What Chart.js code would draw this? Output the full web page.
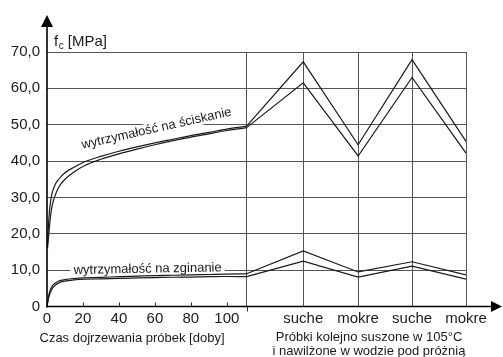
<!DOCTYPE html>
<html>
<head>
<meta charset="utf-8">
<title>Wytrzymałość zaczynu</title>
<script src="https://cdn.jsdelivr.net/npm/chart.js@4.4.0/dist/chart.umd.min.js"></script>
<style>
    html, body { margin: 0; padding: 0; background: #fff; }
    #wrap { width: 503px; height: 357px; }
</style>
</head>
<body>
<div id="wrap"><canvas id="chart" width="503" height="357"></canvas></div>
<script>
// dojrzewanie: doby -> wytrzymałość [MPa]
const compDays   = [0.3, 1, 2, 3, 4.5, 6.5, 10, 15, 21, 30, 40, 50, 60, 70, 80, 90, 100, 111];
const compUpper  = [17, 24, 29, 31.5, 33.5, 35, 36.8, 38.3, 39.8, 41.3, 42.7, 43.9, 45.0, 46.0, 47.0, 47.9, 48.8, 49.6];
const compLower  = [16, 20, 25, 28, 30.5, 32.8, 35, 37, 38.8, 40.5, 42.0, 43.3, 44.5, 45.6, 46.6, 47.5, 48.4, 49.2];

const flexDays   = [0, 1, 2, 3, 4.5, 6.5, 10, 15, 21, 30, 40, 50, 60, 70, 80, 90, 100, 111];
const flexUpper  = [0, 3.2, 4.8, 5.7, 6.4, 7.0, 7.4, 7.7, 7.9, 8.0, 8.2, 8.35, 8.5, 8.6, 8.7, 8.8, 8.9, 9.0];
const flexLower  = [0, 2.5, 4.0, 5.0, 5.8, 6.5, 7.0, 7.3, 7.5, 7.6, 7.75, 7.85, 7.95, 8.05, 8.1, 8.2, 8.25, 8.2];

// cykle suszenia / nawilżania
const cycleX      = [111, 142.5, 173, 203, 233];
const cycleLabels = ['', 'suche', 'mokre', 'suche', 'mokre'];
const compCycleA  = [49.6, 67.3, 44.5, 67.9, 45.4];
const compCycleB  = [49.2, 61.5, 41.4, 63.0, 42.2];
const flexCycleA  = [9.0, 15.3, 9.5, 12.3, 8.7];
const flexCycleB  = [8.2, 12.5, 8.1, 11.1, 7.5];

const ageTicks    = [0, 20, 40, 60, 80, 100];
const xTickValues = ageTicks.concat(cycleX);
const xTickLabels = ageTicks.map(String).concat(cycleLabels);
const yTickValues = [0, 10, 20, 30, 40, 50, 60, 70];
const yTickLabels = ['0', '10,0', '20,0', '30,0', '40,0', '50,0', '60,0', '70,0'];

const FONT = "'Liberation Sans', Arial, sans-serif";
const INK = '#1a1a1a';

function pts(xs, ys) {
    return xs.map((x, i) => ({ x: x, y: ys[i] }));
}
function curve(xs, ys, smooth) {
    return {
        data: pts(xs, ys),
        borderColor: INK,
        borderWidth: 1.2,
        pointRadius: 0,
        fill: false,
        cubicInterpolationMode: smooth ? 'monotone' : 'default',
        tension: 0
    };
}

function labelOnBox(ctx, text, x, y, angle, size) {
    ctx.save();
    ctx.translate(x, y);
    ctx.rotate(angle);
    ctx.font = size + 'px ' + FONT;
    const w = ctx.measureText(text).width;
    ctx.fillStyle = '#fff';
    ctx.fillRect(-3, -size * 0.8, w + 6, size * 1.0);
    ctx.fillStyle = INK;
    ctx.textBaseline = 'alphabetic';
    ctx.fillText(text, 0, 0);
    ctx.restore();
}

const decor = {
    id: 'decor',
    beforeDatasetsDraw(chart) {
        const ctx = chart.ctx, xs = chart.scales.x, ys = chart.scales.y;
        // opis krzywej ściskania, wzdłuż krzywej
        labelOnBox(ctx, 'wytrzymałość na ściskanie', xs.getPixelForValue(19.8), ys.getPixelForValue(43.4), -12.6 * Math.PI / 180, 13);
        // opis krzywej zginania, na linii 10,0
        ctx.save();
        ctx.font = '13px ' + FONT;
        const t = 'wytrzymałość na zginanie';
        const w = ctx.measureText(t).width;
        const cx = xs.getPixelForValue(56), cy = ys.getPixelForValue(10.2);
        ctx.restore();
        labelOnBox(ctx, t, cx - w / 2, cy + 4.5, -1 * Math.PI / 180, 13);
    },
    afterDraw(chart) {
        const ctx = chart.ctx, a = chart.chartArea, xs = chart.scales.x;
        const x0 = a.left, y0 = a.bottom;
        ctx.save();
        ctx.strokeStyle = '#000';
        ctx.fillStyle = '#000';
        ctx.lineWidth = 1.6;
        // osie
        ctx.beginPath();
        ctx.moveTo(x0, y0 + 1);
        ctx.lineTo(x0, 24);
        ctx.moveTo(x0 - 1, y0);
        ctx.lineTo(494, y0);
        ctx.stroke();
        // strzałki
        ctx.beginPath();
        ctx.moveTo(x0, 15);
        ctx.lineTo(x0 - 6, 27);
        ctx.lineTo(x0 + 6, 27);
        ctx.closePath();
        ctx.fill();
        ctx.beginPath();
        ctx.moveTo(502, y0);
        ctx.lineTo(491, y0 - 5.5);
        ctx.lineTo(491, y0 + 5.5);
        ctx.closePath();
        ctx.fill();
        // kreski podziałki
        ctx.lineWidth = 1;
        ctx.strokeStyle = '#333';
        ctx.beginPath();
        ageTicks.slice(1).forEach(v => {
            const px = Math.round(xs.getPixelForValue(v)) + 0.5;
            ctx.moveTo(px, y0 - 4);
            ctx.lineTo(px, y0);
        });
        const bx = Math.round(xs.getPixelForValue(cycleX[0])) + 0.5;
        ctx.moveTo(bx, y0);
        ctx.lineTo(bx, y0 + 5);
        ctx.stroke();

        // tytuł osi Y: f_c [MPa]
        ctx.fillStyle = INK;
        ctx.textBaseline = 'alphabetic';
        ctx.font = '15px ' + FONT;
        ctx.fillText('f', 54, 46);
        const fw = ctx.measureText('f').width;
        ctx.font = '10px ' + FONT;
        ctx.fillText('c', 54 + fw + 0.5, 49);
        const cw = ctx.measureText('c').width;
        ctx.font = '15px ' + FONT;
        ctx.fillText(' [MPa]', 54 + fw + cw + 0.5, 46);

        // podpisy osi X
        ctx.font = '13px ' + FONT;
        ctx.textAlign = 'center';
        ctx.textBaseline = 'middle';
        ctx.fillText('Czas dojrzewania próbek [doby]', 132, 338);
        ctx.fillText('Próbki kolejno suszone w 105°C', 369, 337);
        ctx.fillText('i nawilżone w wodzie pod próżnią', 369, 351);
        ctx.restore();
    }
};

new Chart(document.getElementById('chart'), {
    type: 'line',
    data: {
        datasets: [
            curve(compDays, compUpper, true),
            curve(compDays, compLower, true),
            curve(flexDays, flexUpper, true),
            curve(flexDays, flexLower, true),
            curve(cycleX, compCycleA, false),
            curve(cycleX, compCycleB, false),
            curve(cycleX, flexCycleA, false),
            curve(cycleX, flexCycleB, false)
        ]
    },
    options: {
        responsive: false,
        animation: false,
        devicePixelRatio: 1,
        layout: { padding: { top: 52, right: 37, left: 0, bottom: 0 } },
        plugins: { legend: { display: false }, tooltip: { enabled: false } },
        scales: {
            x: {
                type: 'linear',
                min: 0,
                max: 233,
                afterBuildTicks: s => { s.ticks = xTickValues.map(v => ({ value: v })); },
                afterFit: s => { s.height = 50.5; },
                ticks: {
                    autoSkip: false,
                    maxRotation: 0,
                    padding: 3,
                    color: INK,
                    font: { family: FONT, size: 15 },
                    callback: (v, i) => xTickLabels[i]
                },
                grid: {
                    drawTicks: false,
                    lineWidth: 1,
                    color: c => (c.tick && cycleX.includes(c.tick.value)) ? '#555' : 'rgba(0,0,0,0)'
                },
                border: { display: false }
            },
            y: {
                min: 0,
                max: 70,
                afterBuildTicks: s => { s.ticks = yTickValues.map(v => ({ value: v })); },
                afterFit: s => { s.width = 47; },
                ticks: {
                    padding: 7,
                    color: INK,
                    font: { family: FONT, size: 15 },
                    callback: (v, i) => yTickLabels[i]
                },
                grid: { drawTicks: false, color: '#555', lineWidth: 1 },
                border: { display: false }
            }
        }
    },
    plugins: [decor]
});
</script>
</body>
</html>
